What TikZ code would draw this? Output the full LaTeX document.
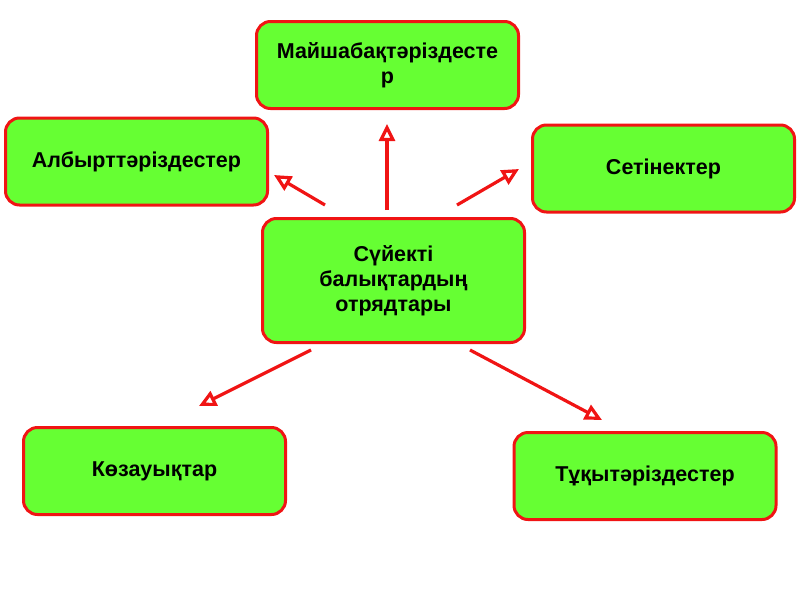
\documentclass[tikz,border=0pt]{standalone}
\usepackage{fontspec}
\setmainfont{Liberation Sans}
\usetikzlibrary{arrows.meta}
\definecolor{boxgreen}{RGB}{102,255,51}
\definecolor{boxred}{RGB}{240,20,20}
\begin{document}
\begin{tikzpicture}[x=1pt,y=-1pt,
  box/.style={draw=boxred, line width=3pt, fill=boxgreen, rounded corners=14pt,
    minimum width=262pt, minimum height=87pt, align=center, font=\bfseries\fontsize{21.5}{25}\selectfont},
  conn/.style={draw=boxred, line width=3.2pt, -{Triangle[open,length=17pt,width=16pt]}}]
\useasboundingbox (0,0) rectangle (800,600);
\node[box] (top) at (387.5,65) {Майшабақтәріздесте\\р};
\node[box] (left) at (136.5,161.5) {Албырттәріздестер};
\node[box] (right) at (663.5,168.5) {Сетінектер};
\node[box, minimum height=124pt] (mid) at (393.5,280.5) {Сүйекті\\балықтардың\\отрядтары};
\node[box] (bl) at (154.5,471) {Көзауықтар};
\node[box] (br) at (645,476) {Тұқытәріздестер};
\coordinate (mt) at (387,210);
\coordinate (ml) at (325,205);
\coordinate (mr) at (457,205);
\coordinate (mbl) at (311,350);
\coordinate (mbr) at (470,350);
\coordinate (at) at (387,124);
\coordinate (al) at (274,175);
\coordinate (ar) at (519,169);
\coordinate (abl) at (199,406);
\coordinate (abr) at (602,420);
\draw[conn] (mt) -- (at);
\draw[conn] (ml) -- (al);
\draw[conn] (mr) -- (ar);
\draw[conn] (mbl) -- (abl);
\draw[conn] (mbr) -- (abr);
\end{tikzpicture}
\end{document}
